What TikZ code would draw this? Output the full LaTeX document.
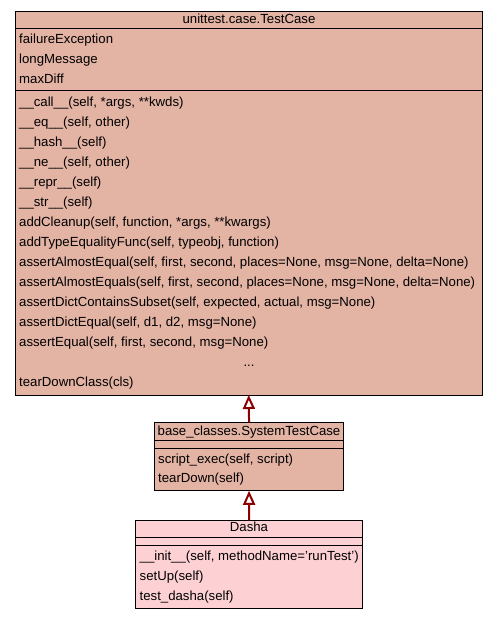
\documentclass[tikz,border=0pt]{standalone}
\usepackage{fontspec}
\setmainfont{Liberation Sans}
\usetikzlibrary{arrows.meta}
\definecolor{clsfill}{HTML}{E3B3A4}
\definecolor{dashafill}{HTML}{FDD1D4}
\definecolor{inhcol}{HTML}{8B0000}
\begin{document}
\begin{tikzpicture}[x=1pt,y=-1pt,
  box/.style={draw=black, line width=0.8pt, inner sep=0pt, outer sep=0pt, anchor=north west},
  sep/.style={draw=black, line width=0.8pt},
  lbl/.style={inner sep=0pt, anchor=base west, font=\fontsize{13.2}{15}\selectfont},
  ttl/.style={inner sep=0pt, anchor=base, font=\fontsize{13.2}{15}\selectfont},
  inh/.style={draw=inhcol, line width=2pt, -{Triangle[open, length=14pt, width=12pt, line width=2pt]}}
]
\useasboundingbox[fill=white] (0,0) rectangle (499,619);
% TestCase
\node[box, fill=clsfill, minimum width=467.5pt, minimum height=384pt] (tc) at (15,11) {};
\draw[sep] (15,28) -- (482.5,28);
\draw[sep] (15,90) -- (482.5,90);
\node[ttl] (tct) at (249,23.3) {unittest.case.TestCase};
\node[lbl] (a1) at (19,43.5) {failureException};
\node[lbl] (a2) at (19,63.5) {longMessage};
\node[lbl] (a3) at (19,83.5) {maxDiff};
\node[lbl] (m1) at (19,106.5) {\_\_call\_\_(self, *args, **kwds)};
\node[lbl] (m2) at (19,126.5) {\_\_eq\_\_(self, other)};
\node[lbl] (m3) at (19,146.5) {\_\_hash\_\_(self)};
\node[lbl] (m4) at (19,166.5) {\_\_ne\_\_(self, other)};
\node[lbl] (m5) at (19,186.5) {\_\_repr\_\_(self)};
\node[lbl] (m6) at (19,206.5) {\_\_str\_\_(self)};
\node[lbl] (m7) at (19,226.5) {addCleanup(self, function, *args, **kwargs)};
\node[lbl] (m8) at (19,246.5) {addTypeEqualityFunc(self, typeobj, function)};
\node[lbl] (m9) at (19,266.5) {assertAlmostEqual(self, first, second, places=None, msg=None, delta=None)};
\node[lbl] (m10) at (19,286.5) {assertAlmostEquals(self, first, second, places=None, msg=None, delta=None)};
\node[lbl] (m11) at (19,306.5) {assertDictContainsSubset(self, expected, actual, msg=None)};
\node[lbl] (m12) at (19,326.5) {assertDictEqual(self, d1, d2, msg=None)};
\node[lbl] (m13) at (19,346.5) {assertEqual(self, first, second, msg=None)};
\node[ttl] (m14) at (249,366.5) {...};
\node[lbl] (m15) at (19,386.5) {tearDownClass(cls)};
% SystemTestCase
\node[box, fill=clsfill, minimum width=189.5pt, minimum height=68.5pt] (stc) at (154.3,422.3) {};
\draw[sep] (154.3,440.7) -- (343.8,440.7);
\draw[sep] (154.3,448.7) -- (343.8,448.7);
\node[ttl] (stct) at (249,435) {base\_classes.SystemTestCase};
\node[lbl] (s1) at (158,463.3) {script\_exec(self, script)};
\node[lbl] (s2) at (158,482.6) {tearDown(self)};
% Dasha
\node[box, fill=dashafill, minimum width=227pt, minimum height=87.7pt] (da) at (135.7,520.3) {};
\draw[sep] (135.7,537.3) -- (362.7,537.3);
\draw[sep] (135.7,545) -- (362.7,545);
\node[ttl] (dat) at (249,531.7) {Dasha};
\node[lbl] (d1) at (139.5,560.7) {\_\_init\_\_(self, methodName='runTest')};
\node[lbl] (d2) at (139.5,580.4) {setUp(self)};
\node[lbl] (d3) at (139.5,600) {test\_dasha(self)};
% inheritance
\draw[inh] (stc.north) -- (tc.south);
\draw[inh] (da.north) -- (stc.south);
\end{tikzpicture}
\end{document}
